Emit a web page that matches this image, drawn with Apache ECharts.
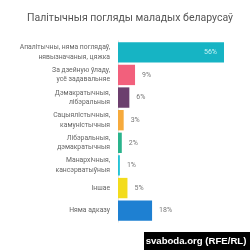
<!DOCTYPE html>
<html>
<head>
<meta charset="utf-8">
<script src="https://cdn.jsdelivr.net/npm/echarts@6/dist/echarts.min.js"></script>
<style>
  html, body { margin: 0; padding: 0; background: #fff; }
  #chart { width: 250px; height: 250px; }
</style>
</head>
<body>
<div id="chart"></div>
<script>
var categories = [
  'Апалітычны, няма поглядаў,\nнявызначаныя, цяжка',
  'За дзейную ўладу,\nусё задавальняе',
  'Дэмакратычныя,\nлібэральныя',
  'Сацыялістычныя,\nкамуністычныя',
  'Лібэральныя,\nдэмакратычныя',
  'Манархічныя,\nкансэрватыўныя',
  'Іншае',
  'Няма адказу'
];
var values = [56, 9, 6, 3, 2, 1, 5, 18];
var colors = ['#16b4c4', '#f2607c', '#6c3f6e', '#f6aa3c', '#2ab38c', '#25c3d6', '#f3dc1c', '#1e80d2'];

var chart = echarts.init(document.getElementById('chart'));

var option = {
  animation: false,
  title: {
    text: 'Палітычныя погляды маладых беларусаў',
    left: 22,
    top: 8,
    textStyle: { fontFamily: 'Roboto', fontSize: 10.5, fontWeight: 'normal', color: '#555' }
  },
  grid: { left: 118, top: 41, width: 106, height: 181 },
  xAxis: {
    type: 'value',
    min: 0,
    max: 56,
    show: false
  },
  yAxis: {
    type: 'category',
    inverse: true,
    data: categories,
    axisTick: { show: false },
    axisLine: { show: true, lineStyle: { color: '#e6e6e6', width: 1 } },
    axisLabel: {
      fontFamily: 'Roboto',
      fontSize: 6.8,
      lineHeight: 9.5,
      color: '#666',
      margin: 8,
      align: 'right'
    }
  },
  series: [{
    type: 'bar',
    barCategoryGap: '10%',
    data: values.map(function (v, i) {
      return {
        value: v,
        itemStyle: { color: colors[i] },
        label: i === 0
          ? { position: 'insideRight', color: '#c9f3f6', offset: [-2, 0] }
          : { position: 'right', color: '#777', distance: 7 }
      };
    }),
    label: {
      show: true,
      fontFamily: 'Roboto',
      fontSize: 7,
      formatter: '{c}%'
    }
  }],
  graphic: [{
    type: 'group',
    right: 0,
    bottom: 0,
    children: [
      { type: 'rect', shape: { x: 0, y: 0, width: 106, height: 18 }, style: { fill: '#000' } },
      {
        type: 'text', x: 52, y: 9,
        style: {
          text: 'svaboda.org (RFE/RL)', fill: '#fff',
          font: 'bold 9.6px "Liberation Sans", Arial',
          align: 'center', verticalAlign: 'middle'
        }
      }
    ]
  }]
};

chart.setOption(option);
window.addEventListener('resize', function () {
  chart.resize();
});
</script>
</body>
</html>
